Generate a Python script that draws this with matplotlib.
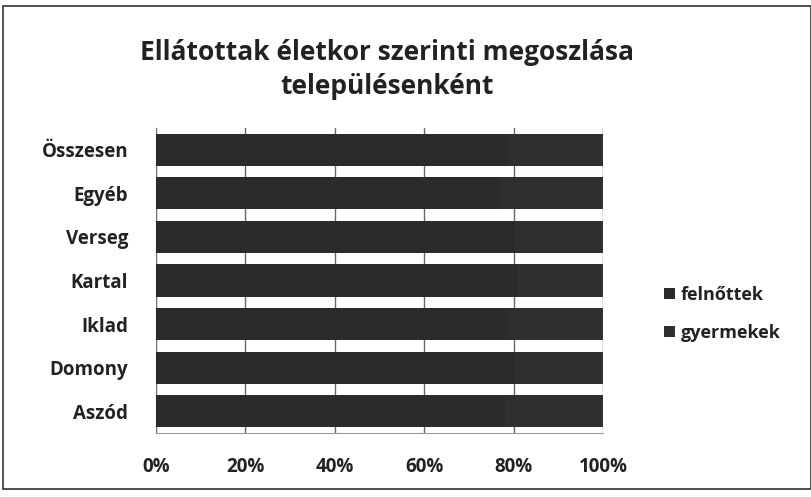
import matplotlib
matplotlib.use("Agg")
import matplotlib.pyplot as plt
from matplotlib.patches import Rectangle
import numpy as np

categories = ["Aszód", "Domony", "Iklad", "Kartal", "Verseg", "Egyéb", "Összesen"]
felnottek = [78, 80, 79, 81, 80, 77, 79]
gyermekek = [22, 20, 21, 19, 20, 23, 21]
series_names = ["felnőttek", "gyermekek"]
xtick_labels = ["0%", "20%", "40%", "60%", "80%", "100%"]

plt.rcParams['font.family'] = ['Open Sans', 'DejaVu Sans']

fig = plt.figure(figsize=(8.12, 4.97), dpi=100)
ax = fig.add_axes([156/812, 1-433/497, (603-156)/812, (433-128)/497])

tot = np.array(felnottek) + np.array(gyermekek)
f = np.array(felnottek) / tot * 100
g = np.array(gyermekek) / tot * 100
y = np.arange(len(categories))
ax.barh(y, f, height=0.74, color="#2b2b2b", label=series_names[0], zorder=3)
ax.barh(y, g, left=f, height=0.74, color="#2f2f2f", label=series_names[1], zorder=3)

ax.set_xlim(0, 100)
ax.set_ylim(-0.5, len(categories) - 0.5)
ax.set_xticks(np.arange(0, 101, 20))
ax.set_xticklabels(xtick_labels, fontsize=13.5, fontweight='bold', color="#222222")
ax.set_yticks(y)
ax.set_yticklabels(categories, fontsize=13.5, fontweight='bold', color="#222222")
ax.tick_params(axis='y', length=0, pad=20)
ax.tick_params(axis='x', length=0, pad=17)
ax.grid(axis='x', color="#666666", linewidth=1, zorder=0)
for s in ax.spines.values():
    s.set_visible(False)
ax.spines['left'].set_visible(True)
ax.spines['left'].set_color("#777777")
ax.spines['bottom'].set_visible(True)
ax.spines['bottom'].set_color("#999999")

fig.text(387/812, 1-52/497, "Ellátottak életkor szerinti megoszlása", ha='center', va='center',
         fontsize=19, fontweight='bold', color="#222222")
fig.text(387/812, 1-86/497, "településenként", ha='center', va='center',
         fontsize=19, fontweight='bold', color="#222222")

leg = fig.legend(loc='center left', bbox_to_anchor=(648/812, 1-314/497), frameon=False,
                 handlelength=0.6, handleheight=0.6, handletextpad=0.3,
                 labelspacing=1.1, prop={'weight': 'bold', 'size': 13})
for t in leg.get_texts():
    t.set_color("#222222")

fig.patches.append(Rectangle((3/812, 8/497), 1 - 3/812 - 1/812, 1 - 8/497 - 6/497,
                             transform=fig.transFigure, fill=False, edgecolor="#333333",
                             linewidth=1.2))

fig.savefig("out.png", dpi=100)
